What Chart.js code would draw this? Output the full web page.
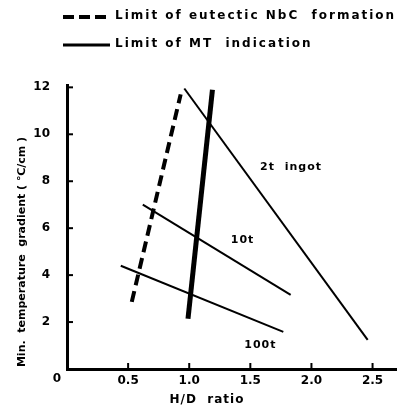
<!DOCTYPE html>
<html>
<head>
<meta charset="utf-8">
<script src="https://cdn.jsdelivr.net/npm/chart.js@4"></script>
<style>
  body { margin: 0; background: #fff; }
</style>
</head>
<body>
<canvas id="chart" width="397" height="410"></canvas>
<script>
// lines, [H/D ratio, min. gradient]
var eutecticLimit = [[0.53, 2.86], [0.93, 11.7]];
var mtLimit = [[0.99, 2.14], [1.19, 11.9]];
var ingot2t = [[0.96, 11.95], [2.46, 1.24]];
var ingot10t = [[0.62, 7.0], [1.83, 3.16]];
var ingot100t = [[0.44, 4.4], [1.77, 1.58]];

var legendLabels = ['Limit of eutectic NbC  formation', 'Limit of MT  indication'];
var lineLabels = [
    { text: '2t  ingot', x: 1.58, y: 8.6 },
    { text: '10t', x: 1.34, y: 5.5 },
    { text: '100t', x: 1.45, y: 1.0 }
];
var xTicks = [0.5, 1.0, 1.5, 2.0, 2.5];
var yTicks = [2, 4, 6, 8, 10, 12];

function pts(arr) {
    return arr.map(p => ({ x: p[0], y: p[1] }));
}

var FONT = '"DejaVu Sans", sans-serif';

var extras = {
    id: 'extras',
    afterDraw: function(chart) {
        var ctx = chart.ctx;
        var xs = chart.scales.x, ys = chart.scales.y;
        var area = chart.chartArea;
        ctx.save();
        ctx.fillStyle = '#000';
        ctx.strokeStyle = '#000';

        // inward tick marks
        ctx.lineWidth = 2;
        yTicks.forEach(v => {
            var py = ys.getPixelForValue(v);
            ctx.beginPath(); ctx.moveTo(area.left, py); ctx.lineTo(area.left + 6, py); ctx.stroke();
        });
        xTicks.forEach(v => {
            var px = xs.getPixelForValue(v);
            ctx.beginPath(); ctx.moveTo(px, area.bottom); ctx.lineTo(px, area.bottom - 6); ctx.stroke();
        });

        // shared origin label
        ctx.font = 'bold 12px ' + FONT;
        ctx.textAlign = 'center';
        ctx.textBaseline = 'middle';
        ctx.fillText('0', 57, 379);

        // line labels
        ctx.font = 'bold 11px ' + FONT;
        ctx.textAlign = 'left';
        ctx.letterSpacing = '1px';
        lineLabels.forEach(l => {
            ctx.fillText(l.text, xs.getPixelForValue(l.x), ys.getPixelForValue(l.y));
        });

        // legend
        ctx.lineWidth = 4;
        ctx.setLineDash([11, 5]);
        ctx.beginPath(); ctx.moveTo(63, 17); ctx.lineTo(109, 17); ctx.stroke();
        ctx.setLineDash([]);
        ctx.lineWidth = 3;
        ctx.beginPath(); ctx.moveTo(63, 45); ctx.lineTo(110, 45); ctx.stroke();
        ctx.font = 'bold 12px ' + FONT;
        ctx.letterSpacing = '2px';
        ctx.fillText(legendLabels[0], 115, 16);
        ctx.fillText(legendLabels[1], 115, 44);

        // axis titles
        ctx.font = 'bold 12px ' + FONT;
        ctx.letterSpacing = '1px';
        ctx.textAlign = 'center';
        ctx.fillText('H/D  ratio', 207, 400);
        ctx.translate(22, 252);
        ctx.rotate(-Math.PI / 2);
        ctx.font = 'bold 11px ' + FONT;
        ctx.letterSpacing = '0px';
        ctx.fillText('Min.  temperature  gradient ( ℃/cm )', 0, 0);
        ctx.restore();
    }
};

var ctx = document.getElementById('chart').getContext('2d');
var chart = new Chart(ctx, {
    type: 'scatter',
    data: {
        datasets: [
            { data: pts(eutecticLimit), showLine: true, borderColor: '#000', borderWidth: 4, borderDash: [11, 6], pointRadius: 0 },
            { data: pts(mtLimit), showLine: true, borderColor: '#000', borderWidth: 5, pointRadius: 0 },
            { data: pts(ingot2t), showLine: true, borderColor: '#000', borderWidth: 2, pointRadius: 0 },
            { data: pts(ingot10t), showLine: true, borderColor: '#000', borderWidth: 2, pointRadius: 0 },
            { data: pts(ingot100t), showLine: true, borderColor: '#000', borderWidth: 2, pointRadius: 0 }
        ]
    },
    options: {
        responsive: false,
        animation: false,
        layout: { padding: { top: 85, left: 0, right: 0, bottom: 0 } },
        plugins: { legend: { display: false }, tooltip: { enabled: false } },
        scales: {
            x: {
                type: 'linear',
                min: 0,
                max: 2.7,
                afterFit: function(s) { s.height = 41; },
                afterBuildTicks: function(s) { s.ticks = xTicks.map(v => ({ value: v })); },
                border: { width: 3, color: '#000' },
                grid: { drawOnChartArea: false, drawTicks: false },
                ticks: {
                    padding: 5,
                    color: '#000',
                    font: { family: FONT, size: 12, weight: 'bold' },
                    callback: v => v.toFixed(1)
                }
            },
            y: {
                type: 'linear',
                min: 0,
                max: 12.1,
                afterFit: function(s) { s.width = 67; },
                afterBuildTicks: function(s) { s.ticks = yTicks.map(v => ({ value: v })); },
                border: { width: 3, color: '#000' },
                grid: { drawOnChartArea: false, drawTicks: false },
                ticks: {
                    padding: 17,
                    color: '#000',
                    font: { family: FONT, size: 12, weight: 'bold' },
                    callback: v => String(v)
                }
            }
        }
    },
    plugins: [extras]
});
</script>
</body>
</html>
